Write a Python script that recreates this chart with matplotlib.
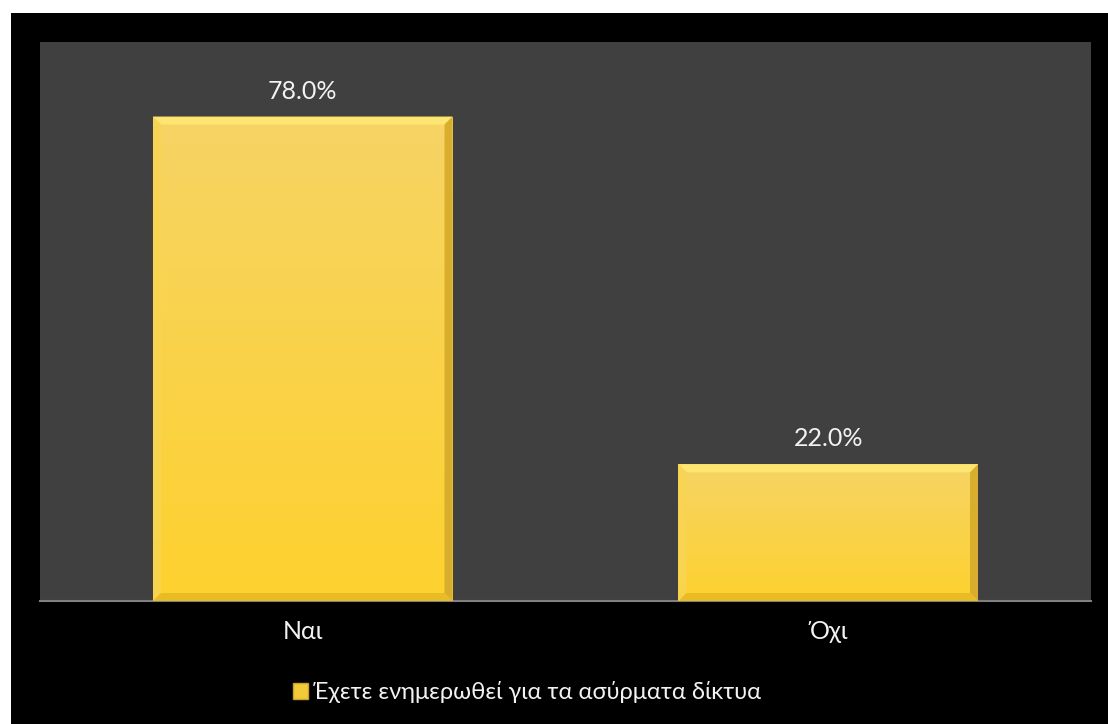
import numpy as np
import matplotlib
matplotlib.use("Agg")
import matplotlib.pyplot as plt
from matplotlib.patches import Rectangle, Polygon
from matplotlib.colors import LinearSegmentedColormap

categories = ["Ναι", "Όχι"]
values = [78.0, 22.0]
series_name = "Έχετε ενημερωθεί για τα ασύρματα δίκτυα"

plt.rcParams["font.family"] = ["Lato", "Noto Sans", "DejaVu Sans"]

W, H = 1108, 724
fig = plt.figure(figsize=(W / 100, H / 100), dpi=100, facecolor="black")

# white margin strips at the top and left edges
fig.patches.append(Rectangle((0, 0), 11 / W, 1, transform=fig.transFigure,
                             facecolor="white", edgecolor="none", zorder=0))
fig.patches.append(Rectangle((0, 1 - 13 / H), 1, 13 / H, transform=fig.transFigure,
                             facecolor="white", edgecolor="none", zorder=0))

ax_l, ax_r, ax_t, ax_b = 40, 1091, 42, 601
ax = fig.add_axes([ax_l / W, 1 - ax_b / H, (ax_r - ax_l) / W, (ax_b - ax_t) / H])
ax.set_facecolor("#404040")
ax.set_xlim(-0.5, len(categories) - 0.5)
ax.set_ylim(0, 90)

bar_w = 0.57
x = np.arange(len(categories))
bars = ax.bar(x, values, width=bar_w, color="#FBD347", edgecolor="none", zorder=2)

# pixel-to-data scale for bevel sizes
px_x = (len(categories)) / (ax_r - ax_l)
px_y = 90 / (ax_b - ax_t)
bev = 8

grad = LinearSegmentedColormap.from_list("g", ["#FED12E", "#F6D465"])
gimg = np.linspace(0, 1, 256).reshape(-1, 1)

txt_color = "#F2F2F2"
fs = 18

for b in bars:
    x0, y0 = b.get_x(), b.get_y()
    w, h = b.get_width(), b.get_height()
    im = ax.imshow(gimg, cmap=grad, origin="lower", aspect="auto",
                   extent=(x0, x0 + w, y0, y0 + h), zorder=3)
    im.set_clip_path(b)
    bx, by = bev * px_x, bev * px_y
    x1, y1 = x0 + w, y0 + h
    # top bevel
    ax.add_patch(Polygon([(x0, y1), (x1, y1), (x1 - bx, y1 - by), (x0 + bx, y1 - by)],
                         closed=True, facecolor="#FDE571", edgecolor="none", zorder=4))
    # left bevel
    ax.add_patch(Polygon([(x0, y0), (x0 + bx, y0 + by), (x0 + bx, y1 - by), (x0, y1)],
                         closed=True, facecolor="#F8D552", alpha=0.9, edgecolor="none", zorder=4))
    # right bevel
    ax.add_patch(Polygon([(x1, y0), (x1 - bx, y0 + by), (x1 - bx, y1 - by), (x1, y1)],
                         closed=True, facecolor="#D8AE2C", edgecolor="none", zorder=4))
    # bottom bevel
    ax.add_patch(Polygon([(x0, y0), (x1, y0), (x1 - bx, y0 + by), (x0 + bx, y0 + by)],
                         closed=True, facecolor="#E9BC26", edgecolor="none", zorder=4))
    ax.annotate(f"{h:.1f}%", (b.get_x() + w / 2, y1), xytext=(0, 10),
                textcoords="offset points", ha="center", va="bottom",
                color=txt_color, fontsize=fs, zorder=5)

for s in ["top", "right", "left"]:
    ax.spines[s].set_visible(False)
ax.spines["bottom"].set_color("#808080")
ax.spines["bottom"].set_linewidth(1.5)
ax.set_yticks([])
ax.set_xticks(x)
ax.set_xticklabels(categories, color=txt_color, fontsize=fs)
ax.tick_params(axis="x", length=0, pad=14)

leg = fig.legend([Rectangle((0, 0), 1, 1, facecolor="#F2CB3A", edgecolor="#C9A227")],
                 [series_name], loc="center", bbox_to_anchor=(527 / W, 1 - 692 / H),
                 frameon=False, fontsize=17, handlelength=0.65, handleheight=0.65,
                 handletextpad=0.2, labelcolor=txt_color)

fig.savefig("out.png", dpi=100, facecolor=fig.get_facecolor())
